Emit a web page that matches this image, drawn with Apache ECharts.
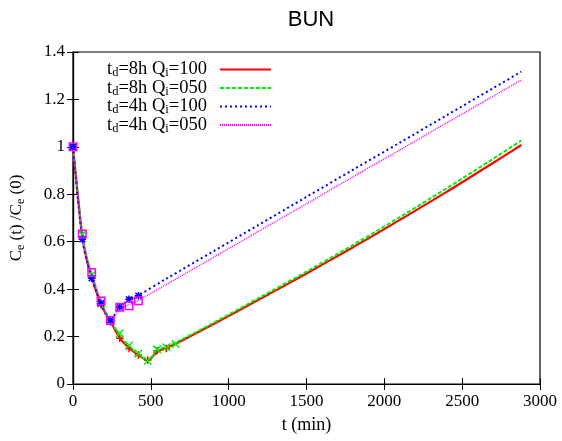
<!DOCTYPE html>
<html><head><meta charset="utf-8">
<script src="https://cdn.jsdelivr.net/npm/echarts@6/dist/echarts.min.js"></script>
<style>html,body{margin:0;padding:0;background:#fff}#c{width:562px;height:441px}</style>
</head><body><div id="c"></div>
<script>
// ---- data ----
const seriesNames = ['td=8h Qi=100', 'td=8h Qi=050', 'td=4h Qi=100', 'td=4h Qi=050'];
const legendLabels = [['8h','100'],['8h','050'],['4h','100'],['4h','050']];
const xTicks = [0, 500, 1000, 1500, 2000, 2500, 3000];
const yTicks = [0, 0.2, 0.4, 0.6, 0.8, 1, 1.2, 1.4];

// model curves (time in min, C_e(t)/C_e(0))
const line8hQ100T = [0, 30, 60, 90, 120, 180, 240, 300, 360, 420, 480, 540, 600, 660, 900, 1200, 1500, 1800, 2100, 2400, 2700, 2880];
const line8hQ100V = [1, 0.80, 0.62, 0.52, 0.45, 0.335, 0.265, 0.195, 0.152, 0.122, 0.100, 0.135, 0.153, 0.170, 0.252, 0.358, 0.466, 0.577, 0.692, 0.810, 0.933, 1.008];
const line8hQ050T = [0, 30, 60, 90, 120, 180, 240, 300, 360, 420, 480, 540, 600, 660, 900, 1200, 1500, 1800, 2100, 2400, 2700, 2880];
const line8hQ050V = [1, 0.81, 0.63, 0.53, 0.46, 0.34, 0.27, 0.205, 0.158, 0.127, 0.100, 0.140, 0.157, 0.175, 0.257, 0.365, 0.474, 0.587, 0.704, 0.825, 0.950, 1.027];
const line4hQ100T = [0, 30, 60, 90, 120, 180, 240, 300, 360, 420, 600, 900, 1200, 1500, 1800, 2100, 2400, 2700, 2880];
const line4hQ100V = [1, 0.79, 0.61, 0.515, 0.445, 0.34, 0.27, 0.325, 0.355, 0.374, 0.444, 0.559, 0.674, 0.789, 0.904, 1.018, 1.133, 1.248, 1.317];
const line4hQ050T = [0, 30, 60, 90, 120, 180, 240, 300, 360, 420, 600, 900, 1200, 1500, 1800, 2100, 2400, 2700, 2880];
const line4hQ050V = [1, 0.81, 0.63, 0.53, 0.47, 0.35, 0.27, 0.315, 0.335, 0.352, 0.420, 0.533, 0.647, 0.760, 0.874, 0.987, 1.101, 1.214, 1.282];

// measured points
const pts8hQ100T = [0, 60, 120, 180, 240, 300, 360, 420, 480, 540, 600];
const pts8hQ100V = [1.0, 0.62, 0.45, 0.333, 0.263, 0.193, 0.150, 0.122, 0.101, 0.140, 0.150];
const pts8hQ050T = [0, 60, 120, 180, 240, 300, 360, 420, 480, 540, 600, 660];
const pts8hQ050V = [1.0, 0.63, 0.46, 0.34, 0.268, 0.214, 0.162, 0.129, 0.098, 0.146, 0.155, 0.169];
const pts4hQ100T = [0, 60, 120, 180, 240, 300, 360, 420];
const pts4hQ100V = [1.0, 0.61, 0.446, 0.34, 0.27, 0.326, 0.357, 0.372];
const pts4hQ050T = [0, 60, 120, 180, 240, 300, 360, 420];
const pts4hQ050V = [1.0, 0.633, 0.47, 0.35, 0.268, 0.324, 0.33, 0.351];

// ---- build ----
const zip = (a, b) => a.map((t, i) => [t, b[i]]);
const colors = ['#ff0000', '#00ee00', '#0000ff', '#ff00ff'];
const serif = '"Liberation Serif", "DejaVu Serif", serif';
const plusPath = 'path://M0,5L10,5M5,0L5,10';
const crossPath = 'path://M0,0L10,10M10,0L0,10';
const starPath = 'path://M0,5L10,5M5,0L5,10M1,1L9,9M9,1L1,9';

const lineDefs = [
  {t: line8hQ100T, v: line8hQ100V, type: 'solid', w: 2.2},
  {t: line8hQ050T, v: line8hQ050V, type: [4, 2], w: 2},
  {t: line4hQ100T, v: line4hQ100V, type: [2, 3], w: 2},
  {t: line4hQ050T, v: line4hQ050V, type: [1, 1], w: 1.5}
];
const ptDefs = [
  {t: pts8hQ100T, v: pts8hQ100V, sym: plusPath, fill: 'none'},
  {t: pts8hQ050T, v: pts8hQ050V, sym: crossPath, fill: 'none'},
  {t: pts4hQ100T, v: pts4hQ100V, sym: starPath, fill: 'none'},
  {t: pts4hQ050T, v: pts4hQ050V, sym: 'rect', fill: 'rgba(255,255,255,0)'}
];

const series = [];
lineDefs.forEach((d, i) => {
  series.push({
    name: seriesNames[i], type: 'line', data: zip(d.t, d.v), symbol: 'none',
    smooth: 0.3, xAxisIndex: 0, yAxisIndex: 0,
    lineStyle: {color: colors[i], width: d.w, type: d.type},
    itemStyle: {color: colors[i]}, z: 3
  });
});
ptDefs.forEach((d, i) => {
  series.push({
    name: 'pts' + i, type: 'scatter', data: zip(d.t, d.v), symbol: d.sym,
    symbolSize: 7.5, xAxisIndex: 0, yAxisIndex: 0,
    itemStyle: {color: d.fill, borderColor: colors[i], borderWidth: 1.5, opacity: 1}, z: 4
  });
});

const richBase = {
  n: {fontSize: 18.5, fontFamily: serif, color: '#000'},
  s: {fontSize: 12.5, fontFamily: serif, color: '#000', padding: [7, 0, 0, 0]}
};

const chart = echarts.init(document.getElementById('c'), null, {renderer: 'canvas'});
chart.setOption({
  animation: false,
  title: {text: 'BUN', left: 306, textAlign: 'center', top: 4,
    textStyle: {fontFamily: '"Liberation Sans", Arial, sans-serif', fontSize: 22, fontWeight: 'normal', color: '#000'}},
  grid: {left: 72, right: 22, top: 52, bottom: 57, show: true, borderColor: '#000', borderWidth: 1.2, backgroundColor: 'transparent'},
  legend: {
    data: seriesNames, orient: 'vertical', left: 102, top: 55, align: 'right',
    itemWidth: 51, itemHeight: 12, itemGap: -1,
    itemStyle: {color: 'rgba(0,0,0,0)', borderWidth: 0, borderColor: 'rgba(0,0,0,0)'},
    formatter: function (name) {
      const k = seriesNames.indexOf(name);
      const l = legendLabels[k];
      return '{n|t}{s|d}{n|=' + l[0] + ' Q}{s|i}{n|=' + l[1] + '}';
    },
    textStyle: {rich: richBase, padding: [0, 8, 0, 0]}
  },
  xAxis: [
    {type: 'value', min: 0, max: 3000, interval: 500, position: 'bottom',
      name: 't (min)', nameLocation: 'middle', nameGap: 32,
      nameTextStyle: {fontFamily: serif, fontSize: 18, color: '#000'},
      axisLine: {show: true, lineStyle: {color: '#000', width: 1.2}},
      axisTick: {show: true, inside: true, length: 6, lineStyle: {color: '#000'}},
      axisLabel: {fontFamily: serif, fontSize: 17, color: '#000', margin: 9,
        formatter: v => xTicks.includes(v) ? String(v) : ''},
      splitLine: {show: false}},
    {type: 'value', min: 0, max: 3000, interval: 500, position: 'top',
      axisLine: {show: true, lineStyle: {color: '#000', width: 1.2}},
      axisTick: {show: true, inside: true, length: 6, lineStyle: {color: '#000'}},
      axisLabel: {show: false}, splitLine: {show: false}}
  ],
  yAxis: [
    {type: 'value', min: 0, max: 1.4, interval: 0.2, position: 'left',
      name: '{n|C}{s|e}{n| (t) /C}{s|e}{n| (0)}', nameLocation: 'middle', nameGap: 46, nameRotate: 90,
      nameTextStyle: {rich: {
        n: {fontSize: 17, fontFamily: serif, color: '#000'},
        s: {fontSize: 12, fontFamily: serif, color: '#000', padding: [9, 0, 0, 0]}}},
      axisLine: {show: true, lineStyle: {color: '#000', width: 1.2}},
      axisTick: {show: true, inside: true, length: 6, lineStyle: {color: '#000'}},
      axisLabel: {fontFamily: serif, fontSize: 17, color: '#000', margin: 8,
        formatter: v => { const m = yTicks.find(t => Math.abs(t - v) < 1e-6); return m === undefined ? '' : String(m); }},
      splitLine: {show: false}},
    {type: 'value', min: 0, max: 1.4, interval: 0.2, position: 'right',
      axisLine: {show: true, lineStyle: {color: '#000', width: 1.2}},
      axisTick: {show: true, inside: true, length: 6, lineStyle: {color: '#000'}},
      axisLabel: {show: false}, splitLine: {show: false}}
  ],
  series: series
});
</script></body></html>
